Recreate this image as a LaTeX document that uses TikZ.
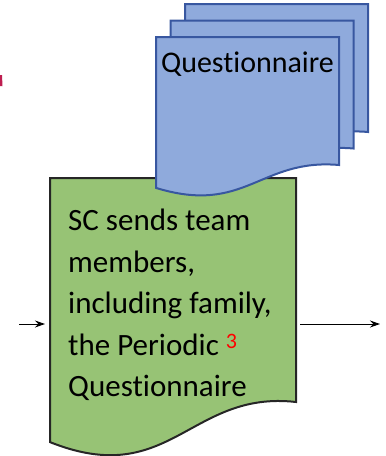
\documentclass[tikz,border=0pt]{standalone}
\usepackage{fontspec}
\setmainfont{Carlito}[Ligatures=NoCommon]
\usetikzlibrary{arrows.meta}
\definecolor{docgreen}{RGB}{151,195,117}
\definecolor{docblue}{RGB}{143,170,220}
\definecolor{docblueline}{RGB}{56,87,160}
\definecolor{edgemark}{RGB}{190,30,80}
\tikzset{
	document/.pic={
		\path[pic actions] (0,0) -- (1,0) -- (1,1)
			.. controls (0.569,0.946) and (0.488,1.393) .. (0,1.179) -- cycle;
	},
	greendoc/.style={fill=docgreen, draw=black!85, line width=2pt},
	bluedoc/.style={fill=docblue, draw=docblueline, line width=2pt},
	flow/.style={-{Stealth[length=10pt,width=7pt]}, line width=1pt},
}
\begin{document}
\begin{tikzpicture}[x=1pt, y=-1pt]
		\useasboundingbox (0,0) rectangle (386,456);
		%cut off mark at the edge
		\fill[edgemark] (0,75) -- (2,75) -- (2.5,86) -- (0,86) -- cycle;
		
		%green process step
		\pic[greendoc, xscale=246, yscale=224] at (50,178) {document};
		\node[font=\fontsize{31}{41.5}\selectfont, align=left, anchor=north west, inner sep=0pt] (sctext) at (68,209)
			{SC sends team\\members,\\including family,\\the Periodic \raisebox{7pt}{\color{red}\fontsize{22}{22}\selectfont 3}\\Questionnaire};
		
		%stack of questionnaires
		\foreach \dx/\dy in {29/-33, 14.5/-16.5, 0/0}{
			\pic[bluedoc, xscale=183, yscale=128] at (156+\dx,37+\dy) {document};
		}
		\node[font=\fontsize{30}{36}\selectfont, anchor=base] (qlabel) at (247.5,72) {Questionnaire};
		
		%flow in and out
		\coordinate (scin) at (50,324);
		\coordinate (scout) at (296,324);
		\coordinate (fromprev) at (19,324);
		\coordinate (tonext) at (380,324);
		\draw[flow, shorten >=5pt] (fromprev) -- (scin);
		\draw[flow, shorten <=4pt] (scout) -- (tonext);
\end{tikzpicture}
\end{document}
